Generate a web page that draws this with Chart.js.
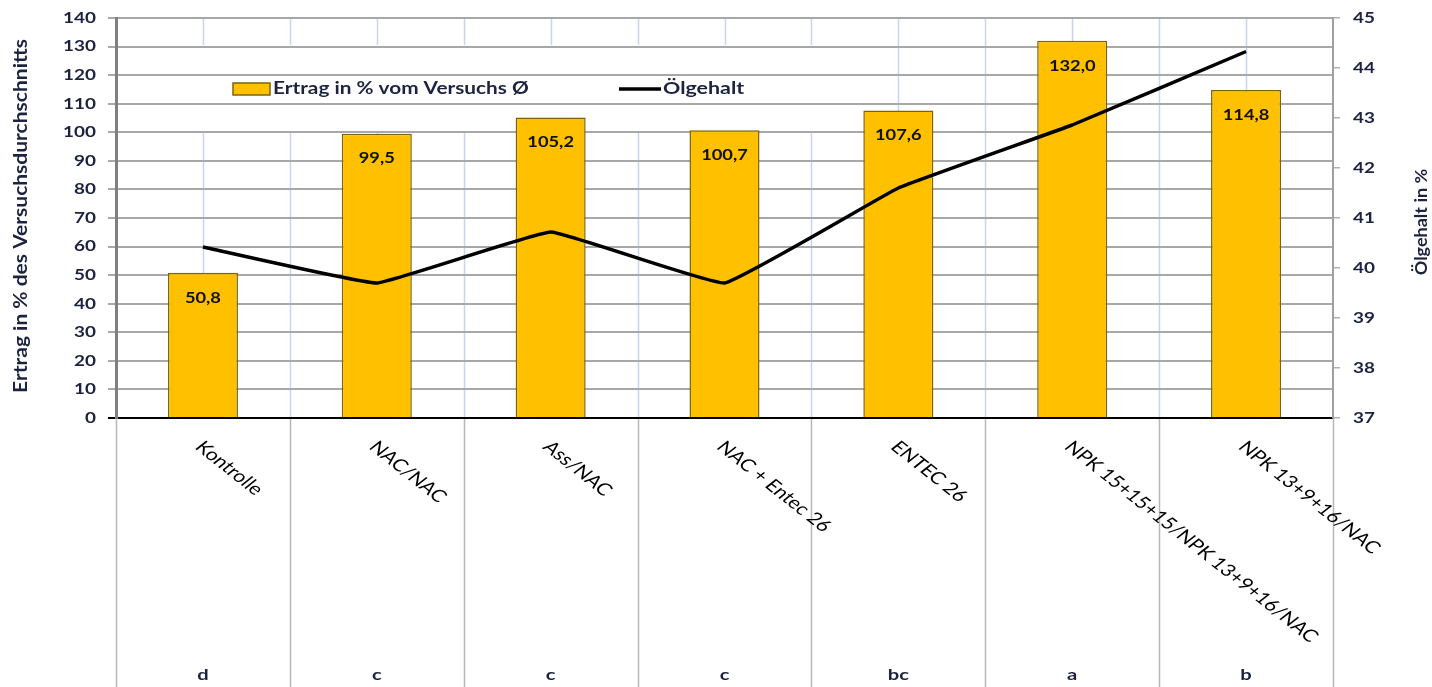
<!DOCTYPE html>
<html><head><meta charset="utf-8">
<script src="https://cdn.jsdelivr.net/npm/chart.js@4.4.1/dist/chart.umd.min.js"></script>
<style>html,body{margin:0;padding:0;background:#fff;overflow:hidden}#wrap{width:1432px;height:687px;position:relative}</style>
</head><body><div id="wrap"><canvas id="c" width="1432" height="687" style="width:1432px;height:687px"></canvas></div>
<script>
const categories = ['Kontrolle', 'NAC/NAC', 'Ass/NAC', 'NAC + Entec 26', 'ENTEC 26', 'NPK 15+15+15/NPK 13+9+16/NAC', 'NPK 13+9+16/NAC'];
const ertrag = [50.8, 99.5, 105.2, 100.7, 107.6, 132.0, 114.8];
const oelgehalt = [40.42, 39.7, 40.72, 39.7, 41.6, 42.86, 44.33];
const letters = ['d', 'c', 'c', 'c', 'bc', 'a', 'b'];
const leftTickValues = [0, 10, 20, 30, 40, 50, 60, 70, 80, 90, 100, 110, 120, 130, 140];
const rightTickValues = [37, 38, 39, 40, 41, 42, 43, 44, 45];
const seriesLabels = ['Ertrag in % vom Versuchs Ø', 'Ölgehalt'];
const axisTitles = ['Ertrag in % des Versuchsdurchschnitts', 'Ölgehalt in %'];

const SX = 1.26;
const NAVY = '#1c2340';
const FONT = 'Lato, "Open Sans", sans-serif';

function txt(ctx, s, x, y, o) {
  ctx.save();
  ctx.translate(x, y);
  ctx.scale(o.sx || SX, 1);
  if (o.rot) ctx.rotate(o.rot);
  ctx.font = o.font;
  ctx.fillStyle = o.color || '#000';
  ctx.textAlign = o.align || 'left';
  ctx.textBaseline = o.baseline || 'middle';
  ctx.fillText(s, 0, 0);
  ctx.restore();
}

const decor = {
  id: 'decor',
  beforeDraw(chart) {
    const ctx = chart.ctx, a = chart.chartArea, xs = chart.scales.x;
    ctx.save();
    ctx.strokeStyle = '#c6d6ef';
    ctx.lineWidth = 1.5;
    for (let i = 0; i < categories.length; i++) {
      [i - 0.5, i].forEach(v => {
        const px = Math.round(xs.getPixelForValue(v)) + 0.5;
        if (px < a.left + 3) return;
        ctx.beginPath(); ctx.moveTo(px, a.top); ctx.lineTo(px, a.bottom); ctx.stroke();
      });
    }
    ctx.fillStyle = '#fff';
    ctx.fillRect(130, 45, 730, 88);
    ctx.strokeStyle = '#b8b8b8';
    ctx.lineWidth = 1.5;
    for (let i = 0; i <= categories.length; i++) {
      const px = Math.round(xs.getPixelForValue(i - 0.5)) + 0.5;
      ctx.beginPath(); ctx.moveTo(px, a.bottom); ctx.lineTo(px, chart.height); ctx.stroke();
    }
    ctx.restore();
  },
  afterDatasetsDraw(chart) {
    const ctx = chart.ctx, a = chart.chartArea, xs = chart.scales.x;
    const yl = chart.scales.y, yr = chart.scales.y2;
    chart.getDatasetMeta(1).data.forEach((bar, i) => {
      txt(ctx, ertrag[i].toFixed(1).replace('.', ','), bar.x, bar.y + 25,
        { font: 'bold 14.5px ' + FONT, color: '#111', align: 'center' });
    });
    ctx.save();
    ctx.fillStyle = '#FFC000'; ctx.strokeStyle = '#7a6410'; ctx.lineWidth = 1.5;
    ctx.fillRect(233, 83, 37, 12); ctx.strokeRect(233, 83, 37, 12);
    ctx.strokeStyle = '#000'; ctx.lineWidth = 3.5;
    ctx.beginPath(); ctx.moveTo(619, 89); ctx.lineTo(661, 89); ctx.stroke();
    ctx.restore();
    txt(ctx, seriesLabels[0], 273, 89, { font: 'bold 16.5px ' + FONT, color: NAVY });
    txt(ctx, seriesLabels[1], 663, 89, { font: 'bold 17px ' + FONT, color: NAVY });
    yl.ticks.forEach(t => {
      txt(ctx, String(t.value), 96, yl.getPixelForValue(t.value), { font: 'bold 15px ' + FONT, color: NAVY, align: 'right' });
    });
    yr.ticks.forEach(t => {
      txt(ctx, String(t.value), 1353, yr.getPixelForValue(t.value), { font: 'bold 15px ' + FONT, color: NAVY, align: 'left' });
    });
    txt(ctx, axisTitles[0], 21, 216, { font: 'bold 21px ' + FONT, color: NAVY, align: 'center', rot: -Math.PI / 2, sx: 0.9 });
    txt(ctx, axisTitles[1], 1421, 222, { font: 'bold 18px ' + FONT, color: NAVY, align: 'center', rot: -Math.PI / 2, sx: 0.95 });
    categories.forEach((c, i) => {
      const cx = xs.getPixelForValue(i);
      txt(ctx, c, cx - 4, 444, { font: '17px ' + FONT, color: '#000', align: 'left', rot: Math.PI / 4 });
      txt(ctx, letters[i], cx, 675, { font: 'bold 16px ' + FONT, color: NAVY, align: 'center' });
    });
  }
};

new Chart(document.getElementById('c'), {
  data: {
    labels: categories,
    datasets: [
      {
        type: 'line', label: seriesLabels[1], data: oelgehalt, yAxisID: 'y2', order: 0,
        borderColor: '#000', borderWidth: 3.5, pointRadius: 0, tension: 0.08, fill: false
      },
      {
        type: 'bar', label: seriesLabels[0], data: ertrag, yAxisID: 'y', order: 1,
        backgroundColor: '#FFC000', borderColor: '#7a6410', borderWidth: 1.5,
        categoryPercentage: 1, barPercentage: 0.403
      }
    ]
  },
  options: {
    responsive: false, animation: false, devicePixelRatio: 1,
    layout: { padding: { top: 18, left: 0, right: 0, bottom: 0 } },
    plugins: { legend: { display: false }, tooltip: { enabled: false } },
    scales: {
      x: {
        type: 'category', offset: true,
        grid: { display: false }, border: { display: false }, ticks: { display: false },
        afterFit(s) { s.height = 269; }
      },
      y: {
        type: 'linear', position: 'left', min: 0, max: 140,
        afterBuildTicks(s) { s.ticks = leftTickValues.map(v => ({ value: v })); },
        ticks: { display: false },
        grid: {
          color: c => (c.tick && c.tick.value === 0) ? '#000' : '#a8a8a8',
          lineWidth: 2, tickLength: 8, drawTicks: true
        },
        border: { color: '#808080', width: 3 },
        afterFit(s) { s.width = 116; }
      },
      y2: {
        type: 'linear', position: 'right', min: 37, max: 45,
        afterBuildTicks(s) { s.ticks = rightTickValues.map(v => ({ value: v })); },
        ticks: { display: false },
        grid: { drawOnChartArea: false, color: '#b0b0b0', lineWidth: 1.5, tickLength: 7 },
        border: { color: '#a0a0a0', width: 2 },
        afterFit(s) { s.width = 99; }
      }
    }
  },
  plugins: [decor]
});
</script>
</body></html>
